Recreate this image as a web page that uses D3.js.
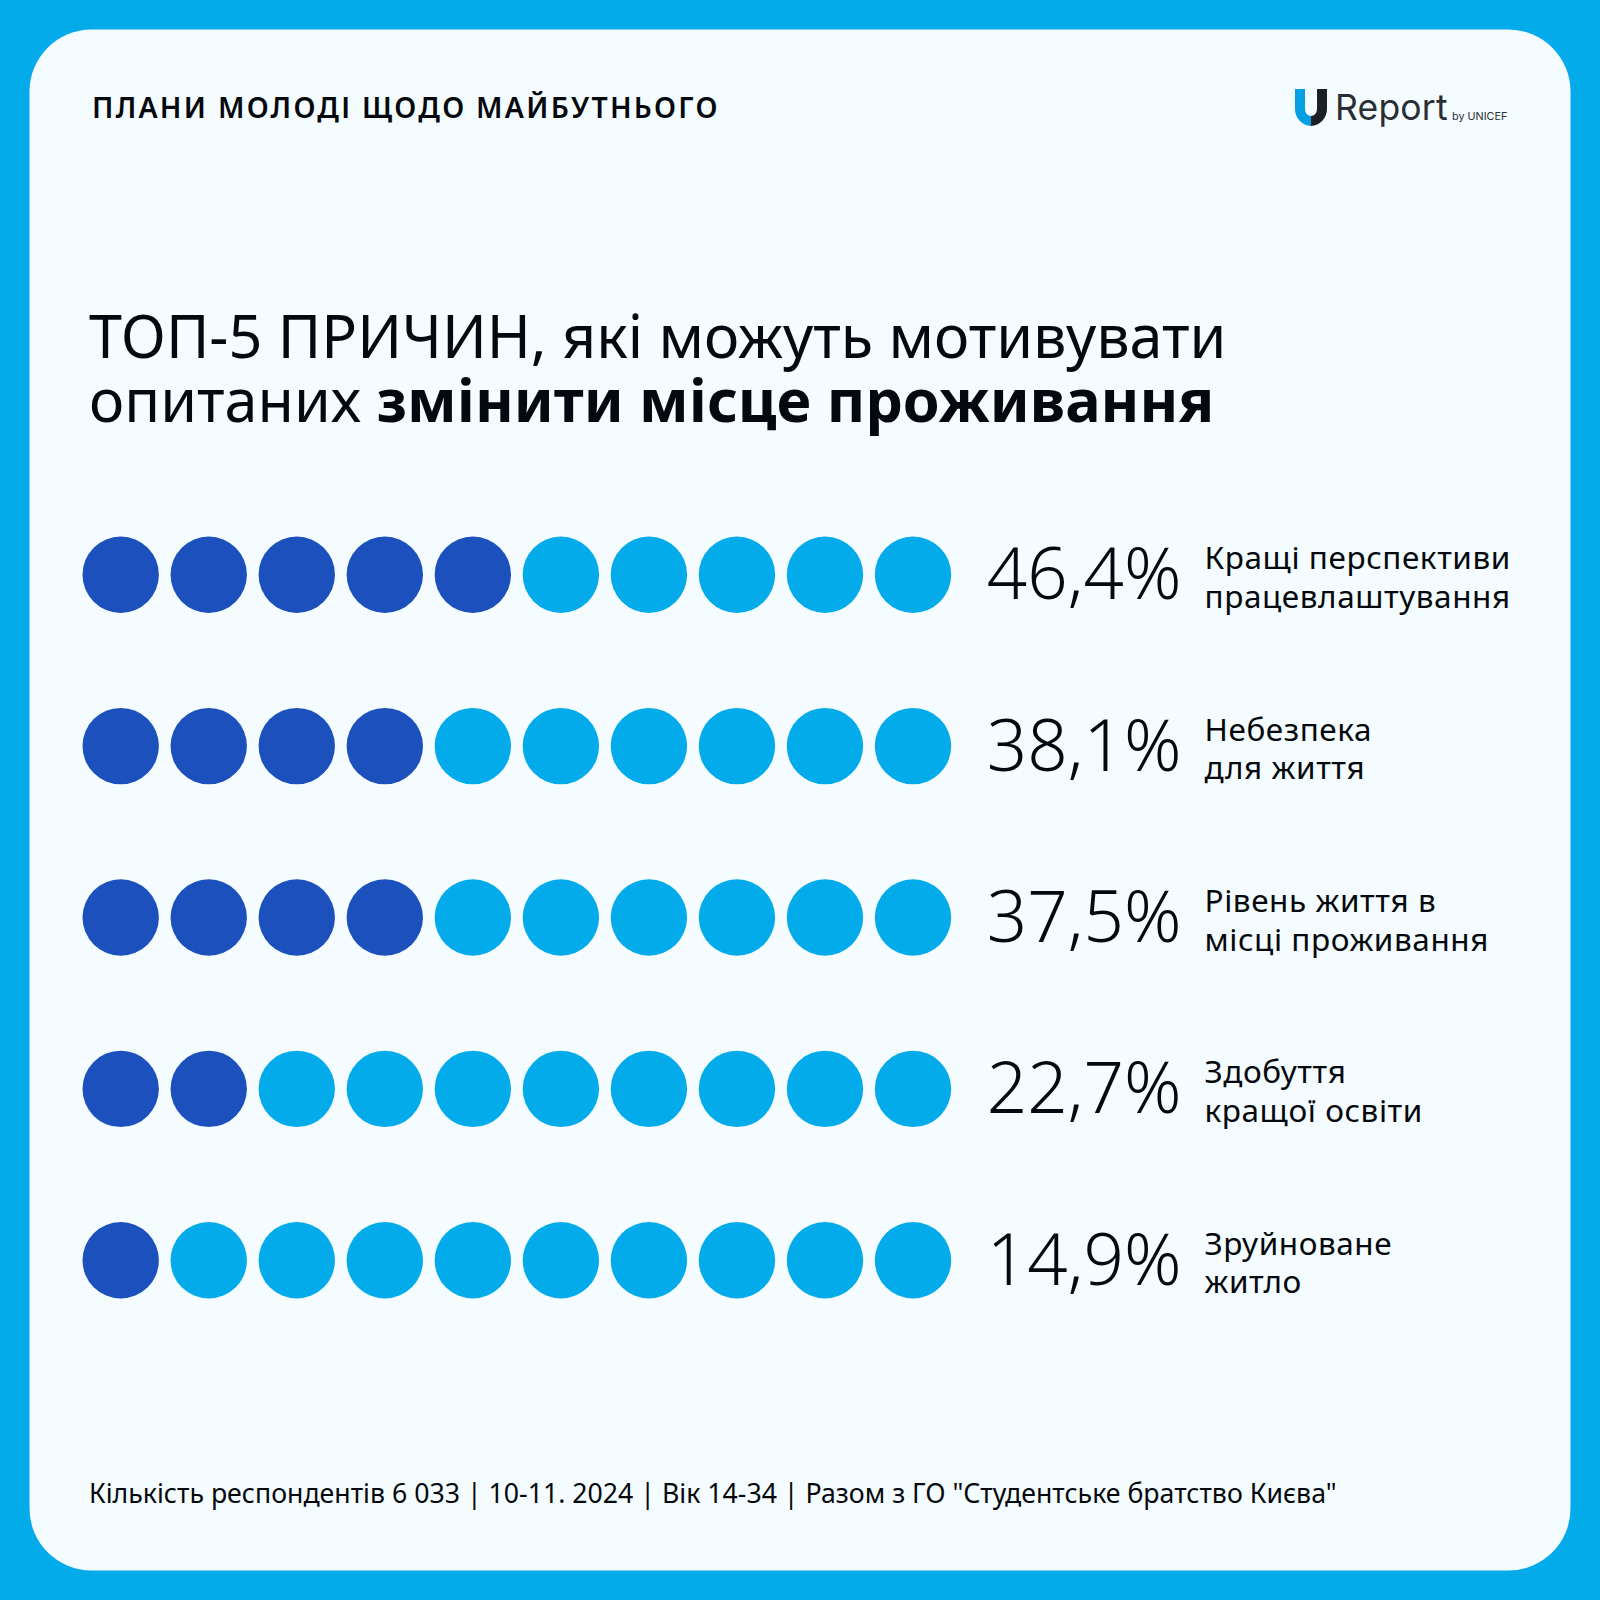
<!DOCTYPE html>
<html>
<head>
<meta charset="utf-8">
<script src="https://cdn.jsdelivr.net/npm/d3@7"></script>
<style>
    html, body { margin: 0; padding: 0; background: #03abea; }
    svg { display: block; }
    text { font-family: "Noto Sans", sans-serif; fill: #05080c; }
</style>
</head>
<body>
<svg id="chart" width="1600" height="1600"></svg>
<script>
const values = [46.4, 38.1, 37.5, 22.7, 14.9]
const valueLabels = ["46,4%", "38,1%", "37,5%", "22,7%", "14,9%"]
const labelsFirst = ["Кращі перспективи", "Небезпека", "Рівень життя в", "Здобуття", "Зруйноване"]
const labelsSecond = ["працевлаштування", "для життя", "місці проживання", "кращої освіти", "житло"]
const dotSlots = d3.range(10)

const svg = d3.select("#chart")

svg.append("rect")
    .attr("width", 1600).attr("height", 1600)
    .attr("fill", "#03abea")
svg.append("rect")
    .attr("x", 29.5).attr("y", 29.5)
    .attr("width", 1541).attr("height", 1541)
    .attr("rx", 62)
    .attr("fill", "#f4fcff")

// header
svg.append("text")
    .attr("x", 92).attr("y", 118)
    .attr("font-size", 28.5)
    .attr("font-weight", 600)
    .attr("letter-spacing", 2.27)
    .text("ПЛАНИ МОЛОДІ ЩОДО МАЙБУТНЬОГО")

// logo
const logo = svg.append("g").attr("transform", "translate(1295,89)")
logo.append("path")
    .attr("d", "M0,0H10V20A6,7 0 0 0 16,27V37A16.5,17 0 0 1 0,20Z")
    .attr("fill", "#05a0e4")
logo.append("path")
    .attr("d", "M16,27A6,7 0 0 0 22,20V0H32V20A16.5,17 0 0 1 16,37Z")
    .attr("fill", "#1c1f24")
logo.append("text")
    .attr("x", 40).attr("y", 31)
    .attr("font-size", 35.5)
    .attr("letter-spacing", 0.2)
    .style("font-family", "Inter, sans-serif")
    .style("fill", "#2a2d33")
    .text("Report")
logo.append("text")
    .attr("x", 157).attr("y", 31)
    .attr("font-size", 10.8)
    .style("font-family", "Inter, sans-serif")
    .style("fill", "#2a2d33")
    .text("by UNICEF")

// title
svg.append("text")
    .attr("font-size", 59.3)
    .attr("x", 89).attr("y", 358)
    .text("ТОП-5 ПРИЧИН, які можуть мотивувати")
const title2 = svg.append("text").attr("font-size", 59.3).attr("x", 89).attr("y", 422)
title2.append("tspan").text("опитаних ")
title2.append("tspan").attr("font-weight", 700).text("змінити місце проживання")

// dot rows
const x = d3.scalePoint().domain(dotSlots).range([120.7, 913])
const y = d3.scalePoint().domain(d3.range(values.length)).range([574.7, 1260.3])

const rows = svg.selectAll(".row")
    .data(values)
    .join("g")
    .attr("class", "row")
    .attr("transform", (d, i) => `translate(0,${y(i)})`)

rows.selectAll("circle")
    .data(v => dotSlots.map(s => s < Math.round(v / 10)))
    .join("circle")
    .attr("cx", (d, i) => x(i))
    .attr("r", 38.2)
    .attr("fill", d => d ? "#1b50bd" : "#03abea")

rows.append("text")
    .attr("x", 1181.5).attr("y", 24.5)
    .attr("text-anchor", "end")
    .attr("font-size", 70.8)
    .attr("font-weight", 300)
    .text((d, i) => valueLabels[i])

rows.append("text")
    .attr("x", 1204.5).attr("y", -5.5)
    .attr("font-size", 31.5)
    .attr("letter-spacing", 0.57)
    .text((d, i) => labelsFirst[i])

rows.append("text")
    .attr("x", 1204.5).attr("y", 33)
    .attr("font-size", 31.5)
    .attr("letter-spacing", 0.57)
    .text((d, i) => labelsSecond[i])

// footer
svg.append("text")
    .attr("x", 89).attr("y", 1502.5)
    .attr("font-size", 26.7)
    .text("Кількість респондентів 6 033 | 10-11. 2024 | Вік 14-34 | Разом з ГО \"Студентське братство Києва\"")
</script>
</body>
</html>
